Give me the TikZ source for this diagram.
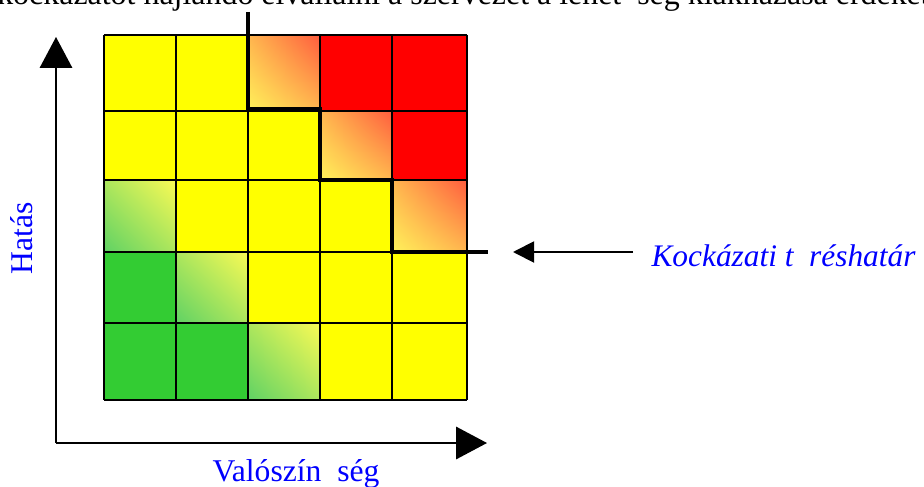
\documentclass[tikz,border=0pt]{standalone}
\usepackage{fontspec}
\setmainfont{Liberation Serif}
\usetikzlibrary{arrows.meta, positioning, shadings}

\definecolor{riskred}{RGB}{255,0,0}
\definecolor{riskyellow}{RGB}{255,255,0}
\definecolor{riskgreen}{RGB}{51,204,51}
\definecolor{warmyellow}{RGB}{255,242,90}
\definecolor{warmorange}{RGB}{255,92,62}
\definecolor{softgreen}{RGB}{95,210,100}
\definecolor{paleyellow}{RGB}{250,250,85}
\definecolor{labelblue}{RGB}{0,0,255}

\begin{document}
\begin{tikzpicture}[x=0.025cm, y=-0.025cm,
    gridline/.style={draw=black, line width=1.4pt},
    threshold/.style={draw=black, line width=2.8pt},
    axis/.style={draw=black, line width=1.4pt},
    bighead/.style={-{Triangle[length=22pt, width=23pt]}},
    label/.style={font=\fontsize{22.5}{26}\selectfont, text=labelblue, inner sep=0pt},
    orangecell/.style={lower left=warmyellow, upper right=warmorange,
        upper left=warmyellow!60!warmorange, lower right=warmyellow!60!warmorange},
    greencell/.style={lower left=softgreen, upper right=paleyellow,
        upper left=softgreen!50!paleyellow, lower right=softgreen!50!paleyellow}]
    % Page frame
    \path[use as bounding box, clip] (0,0) rectangle (924,486);

    % Matrix cells: yellow base, then red, green and shaded cells
    \fill[riskyellow] (104,35) rectangle (467,400);
    \fill[riskred] (320,35) rectangle (467,111);
    \fill[riskred] (392,111) rectangle (467,180);
    \fill[riskgreen] (104,252) rectangle (176,400);
    \fill[riskgreen] (176,323) rectangle (248,400);
    \shade[orangecell] (248,35) rectangle (320,111);
    \shade[orangecell] (320,111) rectangle (392,180);
    \shade[orangecell] (392,180) rectangle (467,252);
    \shade[greencell] (104,180) rectangle (176,252);
    \shade[greencell] (176,252) rectangle (248,323);
    \shade[greencell] (248,323) rectangle (320,400);

    % Grid lines
    \foreach \x in {104,176,248,320,392,467}
        \draw[gridline] (\x,35) -- (\x,400);
    \foreach \y in {35,111,180,252,323,400}
        \draw[gridline] (104,\y) -- (467,\y);

    % Risk appetite boundary
    \draw[threshold] (248,12) -- (248,109) -- (320,109) -- (320,180)
        -- (392,180) -- (392,252) -- (488,252);
    \coordinate (arrowtip) at (513,252);

    % Axes
    \draw[axis, bighead] (56,443) -- (56,37);
    \draw[axis, bighead] (56,443) -- (487,443);

    % Labels
    \node[label, rotate=90] (impact) at (22,238) {Hatás};
    \node[label, anchor=base] (likelihood) at (296,481) {Valószín\hspace{0.5em}ség};
    \node[label, anchor=base west, font=\fontsize{22.3}{26}\selectfont\itshape,
        inner xsep=13pt] (tolerance) at (633,266) {Kockázati t\hspace{0.5em}réshatár};
    \node[font=\fontsize{22.7}{26}\selectfont, anchor=base west, inner sep=0pt] (appetite) at (-3,5)
        {kockázatot hajlandó elvállalni a szervezet a lehet\hspace{0.5em}ség kiaknázása érdekében};

    % Pointer to the boundary
    \draw[line width=1.4pt, -{Triangle[length=15pt, width=15pt]}] (tolerance.west |- arrowtip) -- (arrowtip);
\end{tikzpicture}
\end{document}
